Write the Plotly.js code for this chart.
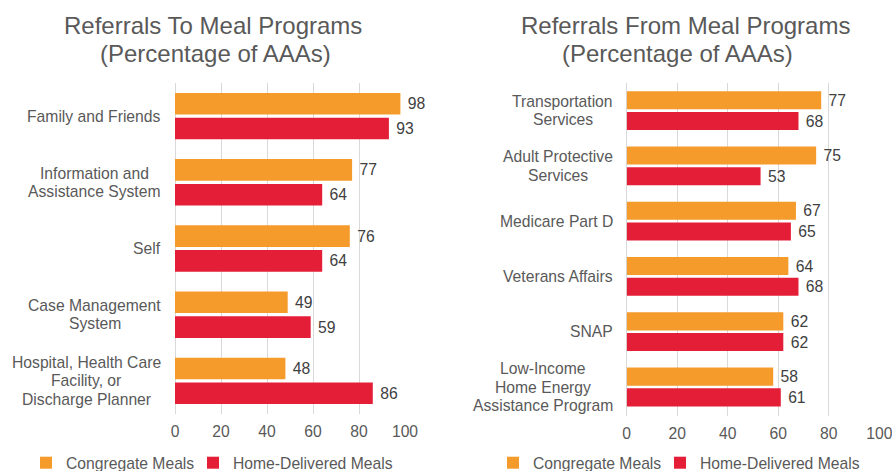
<!DOCTYPE html>
<html>
<head>
<meta charset="utf-8">
<script src="https://cdn.plot.ly/plotly-3.0.1.min.js"></script>
<style>html,body{margin:0;padding:0;background:#fff;}#chart{width:892px;height:471px;}</style>
</head>
<body>
<div id="chart"></div>
<script>
// Left chart data
var leftCategories = ["Family and Friends", "Information and Assistance System", "Self", "Case Management System", "Hospital, Health Care Facility, or Discharge Planner"];
var leftLabels = ["Family and Friends", "Information and<br>Assistance System", "Self", "Case Management<br>System", "Hospital, Health Care<br>Facility, or<br>Discharge Planner"];
var leftCongregate = [98, 77, 76, 49, 48];
var leftHomeDelivered = [93, 64, 64, 59, 86];

// Right chart data
var rightCategories = ["Transportation Services", "Adult Protective Services", "Medicare Part D", "Veterans Affairs", "SNAP", "Low-Income Home Energy Assistance Program"];
var rightLabels = ["Transportation<br>Services", "Adult Protective<br>Services", "Medicare Part D", "Veterans Affairs", "SNAP", "Low-Income<br>Home Energy<br>Assistance Program"];
var rightCongregate = [77, 75, 67, 64, 62, 58];
var rightHomeDelivered = [68, 53, 65, 68, 62, 61];

var xTicks = [0, 20, 40, 60, 80, 100];
var seriesNames = ["Congregate Meals", "Home-Delivered Meals"];
var leftTitle = ["Referrals To Meal Programs", "(Percentage of AAAs)"];
var rightTitle = ["Referrals From Meal Programs", "(Percentage of AAAs)"];

var ORANGE = "#F49B2B";
var RED = "#E51E38";
var FONT = "Liberation Sans, Arial, sans-serif";
var GRAY = "#595959";
var LABEL_SIZE = 15.7;

function barTrace(x, y, name, color, xa, ya, legend) {
  return {
    type: "bar", orientation: "h", x: x, y: y, name: name,
    marker: {color: color},
    xaxis: xa, yaxis: ya, legend: legend, showlegend: true,
    texttemplate: "\u00a0%{x}", textposition: "outside",
    textfont: {family: FONT, size: LABEL_SIZE, color: "#404040"},
    cliponaxis: false, constraintext: "none", hoverinfo: "x+y"
  };
}

var data = [
  barTrace(leftCongregate, leftCategories, seriesNames[0], ORANGE, "x", "y", "legend"),
  barTrace(leftHomeDelivered, leftCategories, seriesNames[1], RED, "x", "y", "legend2"),
  barTrace(rightCongregate, rightCategories, seriesNames[0], ORANGE, "x2", "y2", "legend3"),
  barTrace(rightHomeDelivered, rightCategories, seriesNames[1], RED, "x2", "y2", "legend4")
];

var W = 892, H = 471;

function xAxis(domain, anchor) {
  return {
    domain: domain, anchor: anchor, range: [0, 100], tickvals: xTicks,
    showgrid: true, gridcolor: "#D9D9D9", gridwidth: 1,
    zeroline: true, zerolinecolor: "#D9D9D9", zerolinewidth: 1,
    showline: false, ticks: "outside", ticklen: 3, tickcolor: "rgba(0,0,0,0)",
    ticklabeloverflow: "allow",
    tickfont: {family: FONT, size: LABEL_SIZE, color: GRAY}, fixedrange: true
  };
}
function yAxis(anchor, cats, topPx, botPx) {
  return {
    domain: [1 - botPx / H, 1 - topPx / H], anchor: anchor, type: "category",
    categoryorder: "array", categoryarray: cats,
    autorange: "reversed", showticklabels: false, showgrid: false,
    zeroline: false, showline: false, ticks: "", fixedrange: true
  };
}

// measure text to right-align each label block while centring its lines
var ctx = document.createElement("canvas").getContext("2d");
ctx.font = LABEL_SIZE + "px 'Liberation Sans', Arial, sans-serif";

var annotations = [];
function addLabel(yref, rightPx, cat, label, spacing) {
  var lines = label.split("<br>");
  var n = lines.length;
  var maxW = 0;
  lines.forEach(function (ln) { maxW = Math.max(maxW, ctx.measureText(ln).width); });
  var cx = rightPx - maxW / 2;
  lines.forEach(function (ln, i) {
    annotations.push({xref: "paper", yref: yref, x: cx / W, y: cat, text: ln,
      yshift: ((n - 1) / 2 - i) * spacing,
      showarrow: false, xanchor: "center", yanchor: "middle", align: "center",
      font: {family: FONT, size: LABEL_SIZE, color: GRAY}});
  });
}
leftCategories.forEach(function (c, i) { addLabel("y", 161, c, leftLabels[i], 18.5); });
rightCategories.forEach(function (c, i) { addLabel("y2", 613, c, rightLabels[i], 18.5); });

function addTitle(lines, centers) {
  lines.forEach(function (ln, i) {
    annotations.push({xref: "paper", yref: "paper", x: centers[i] / W, y: 1 - (26 + 28 * i) / H, text: ln,
      showarrow: false, xanchor: "center", yanchor: "middle", align: "center",
      font: {family: FONT, size: 24, color: GRAY}});
  });
}
addTitle(leftTitle, [213, 215]);
addTitle(rightTitle, [685, 677]);

function legendAt(px) {
  return {
    orientation: "h", xanchor: "left", yanchor: "middle", x: px / W, y: 1 - 463 / H,
    font: {family: FONT, size: LABEL_SIZE, color: GRAY}, bgcolor: "rgba(0,0,0,0)",
    itemclick: false, itemdoubleclick: false, itemwidth: 30
  };
}

var layout = {
  width: W, height: H,
  margin: {l: 0, r: 0, t: 0, b: 0, autoexpand: false},
  paper_bgcolor: "#fff", plot_bgcolor: "#fff",
  barmode: "group", bargap: 0.25, bargroupgap: 0.13,
  font: {family: FONT, color: GRAY},
  xaxis: xAxis([175 / W, 405 / W], "y"),
  yaxis: yAxis("x", leftCategories, 83, 414),
  xaxis2: xAxis([626.7 / W, 879.3 / W], "y2"),
  yaxis2: yAxis("x2", rightCategories, 83, 416),
  legend: legendAt(26),
  legend2: legendAt(193),
  legend3: legendAt(493),
  legend4: legendAt(660),
  annotations: annotations,
  showlegend: true
};

Plotly.newPlot("chart", data, layout, {displayModeBar: false, staticPlot: true});
</script>
</body>
</html>
